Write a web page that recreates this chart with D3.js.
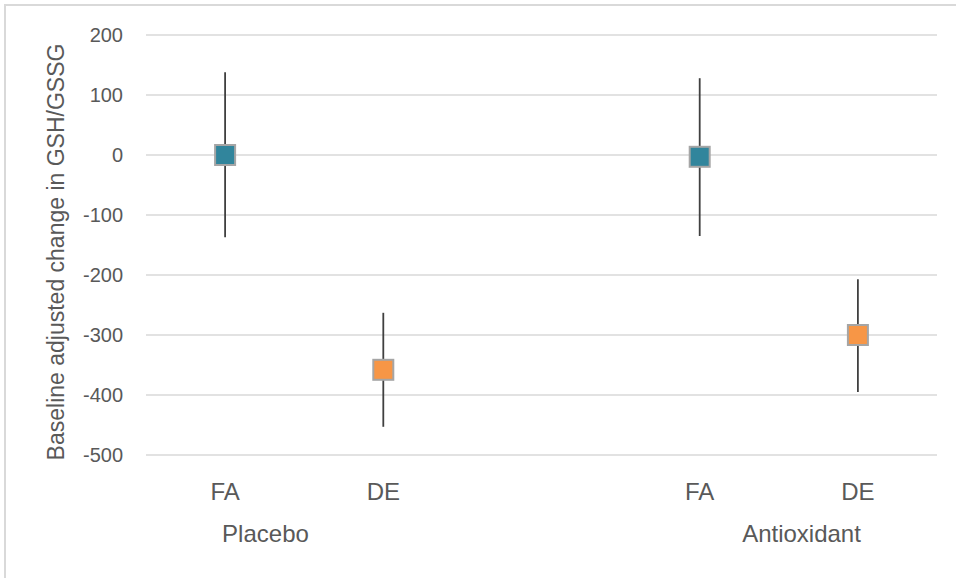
<!DOCTYPE html>
<html>
<head>
<meta charset="utf-8">
<script src="https://cdn.jsdelivr.net/npm/d3@7"></script>
<style>
  html, body { margin: 0; padding: 0; background: #fff; }
  svg { display: block; font-family: Arial, "Liberation Sans", sans-serif; }
</style>
</head>
<body>
<svg id="chart" width="956" height="578"></svg>
<script>
// Treatment groups and the measurement within each group
const groups = ["Placebo", "Antioxidant"];
const categories = ["FA", "DE"];
// Mean baseline-adjusted change, one per group × category (FA, DE order)
const means = [0, -358, -3, -300];
// Error bar extents above and below each mean
const errUp = [138, 95, 131, 93];
const errDown = [137, 95, 132, 95];
const yTicks = [200, 100, 0, -100, -200, -300, -400, -500];
const yTitle = "Baseline adjusted change in GSH/GSSG";
const colors = { FA: "#31859c", DE: "#f79646" };

const svg = d3.select("#chart");
const W = 956, H = 578;
const plot = { left: 146, right: 937, top: 35, bottom: 455 };

// Chart-area frame
svg.append("rect")
  .attr("x", 5).attr("y", 5)
  .attr("width", W).attr("height", H)
  .attr("fill", "#fff")
  .attr("stroke", "#d9d9d9").attr("stroke-width", 2);

// Slots: each group's categories, with an empty slot between groups
const slots = [];
groups.forEach((g, gi) => {
  if (gi > 0) slots.push("gap" + gi);
  categories.forEach(c => slots.push(g + "|" + c));
});

const x = d3.scaleBand().domain(slots).range([plot.left, plot.right]);
const xc = key => x(key) + x.bandwidth() / 2;
const y = d3.scaleLinear().domain([-500, 200]).range([plot.bottom, plot.top]);

// Horizontal gridlines
svg.append("g")
  .selectAll("line")
  .data(yTicks)
  .join("line")
  .attr("x1", plot.left).attr("x2", plot.right)
  .attr("y1", d => y(d)).attr("y2", d => y(d))
  .attr("stroke", "#d9d9d9").attr("stroke-width", 1.5);

// Y tick labels
svg.append("g")
  .selectAll("text")
  .data(yTicks)
  .join("text")
  .attr("x", 123)
  .attr("y", d => y(d))
  .attr("dy", "0.36em")
  .attr("text-anchor", "end")
  .attr("font-size", 20)
  .attr("fill", "#595959")
  .text(d => d);

// Y axis title
svg.append("text")
  .attr("transform", `translate(64, ${(plot.top + plot.bottom) / 2 + 7}) rotate(-90)`)
  .attr("text-anchor", "middle")
  .attr("font-size", 23)
  .attr("fill", "#595959")
  .text(yTitle);

// Points data
const points = [];
groups.forEach((g, gi) => {
  categories.forEach((c, ci) => {
    const i = gi * categories.length + ci;
    points.push({ key: g + "|" + c, cat: c, mean: means[i], up: errUp[i], down: errDown[i] });
  });
});

// Error bars
svg.append("g")
  .selectAll("line")
  .data(points)
  .join("line")
  .attr("x1", d => xc(d.key)).attr("x2", d => xc(d.key))
  .attr("y1", d => y(d.mean + d.up))
  .attr("y2", d => y(d.mean - d.down))
  .attr("stroke", "#404040").attr("stroke-width", 1.8);

// Square markers
const ms = 20;
svg.append("g")
  .selectAll("rect")
  .data(points)
  .join("rect")
  .attr("x", d => xc(d.key) - ms / 2)
  .attr("y", d => y(d.mean) - ms / 2)
  .attr("width", ms).attr("height", ms)
  .attr("fill", d => colors[d.cat])
  .attr("stroke", "#a5a5a5").attr("stroke-width", 2);

// Category labels
svg.append("g")
  .selectAll("text")
  .data(points)
  .join("text")
  .attr("x", d => xc(d.key))
  .attr("y", 500)
  .attr("text-anchor", "middle")
  .attr("font-size", 24)
  .attr("fill", "#595959")
  .text(d => d.cat);

// Group labels: first group starts at its first category, last ends at its last
svg.append("g")
  .selectAll("text")
  .data(groups)
  .join("text")
  .attr("x", (g, gi) => gi === 0
    ? xc(g + "|" + categories[0]) - 3
    : xc(g + "|" + categories[categories.length - 1]) + 3)
  .attr("y", 542)
  .attr("text-anchor", (g, gi) => gi === 0 ? "start" : "end")
  .attr("font-size", 24)
  .attr("fill", "#595959")
  .text(g => g);
</script>
</body>
</html>
